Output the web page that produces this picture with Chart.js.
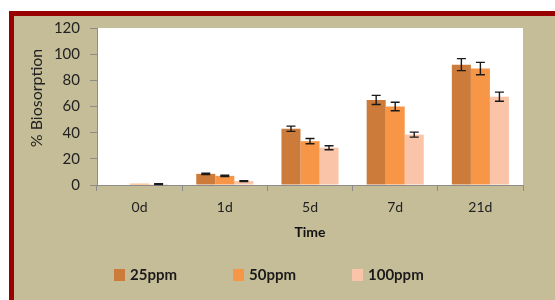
<!DOCTYPE html>
<html><head><meta charset="utf-8">
<script src="https://cdn.jsdelivr.net/npm/chart.js@4"></script>
<style>
html,body{margin:0;padding:0;background:#fff;overflow:hidden;width:555px;height:300px}
#frame{position:absolute;left:9px;top:11px;width:560px;height:300px;border-left:5px solid #990000;border-top:5px solid #990000;background:#C4BD97}
#wrap{position:absolute;left:14px;top:16px;width:541px;height:284px}
</style></head><body>
<div id="frame"></div>
<div id="wrap"><canvas id="c" width="541" height="284"></canvas></div>
<script>
const categories = ['0d', '1d', '5d', '7d', '21d'];
const seriesNames = ['25ppm', '50ppm', '100ppm'];
const values25 = [0, 8.5, 43, 65, 92];
const values50 = [1, 7, 33.5, 60, 89];
const values100 = [0.7, 3, 28.5, 38.5, 67.5];
const err25 = [0, 0.5, 2, 3.5, 4.6];
const err50 = [0, 0.5, 2, 3.2, 4.7];
const err100 = [0.3, 0.3, 1.5, 1.9, 3.5];
const yTicks = [0, 20, 40, 60, 80, 100, 120];
const xTitle = 'Time';
const yTitle = '% Biosorption';
const colors = ['#CC7B3A', '#F79646', '#FAC4A8'];

const FONT = 'Lato';

const bgPlugin = {
  id: 'bg',
  beforeDraw(chart) {
    const {ctx, chartArea: a} = chart;
    ctx.save();
    ctx.fillStyle = '#ffffff';
    ctx.fillRect(a.left, a.top, a.right - a.left, a.bottom - a.top);
    ctx.restore();
  }
};

const errPlugin = {
  id: 'errbars',
  afterDatasetsDraw(chart) {
    const {ctx} = chart;
    const ys = chart.scales.y;
    ctx.save();
    ctx.strokeStyle = '#1a1a1a';
    ctx.lineWidth = 1.4;
    chart.data.datasets.forEach((ds, i) => {
      const meta = chart.getDatasetMeta(i);
      meta.data.forEach((el, j) => {
        const e = ds.errors[j];
        if (!e) return;
        const v = ds.data[j];
        const yT = ys.getPixelForValue(v + e);
        const yB = ys.getPixelForValue(Math.max(0, v - e));
        const x = el.x;
        ctx.beginPath();
        ctx.moveTo(x, yT); ctx.lineTo(x, yB);
        ctx.moveTo(x - 4.5, yT); ctx.lineTo(x + 4.5, yT);
        ctx.moveTo(x - 4.5, yB); ctx.lineTo(x + 4.5, yB);
        ctx.stroke();
      });
    });
    ctx.restore();
  }
};

const extrasPlugin = {
  id: 'extras',
  afterDraw(chart) {
    const {ctx} = chart;
    ctx.save();
    // y axis title
    ctx.fillStyle = '#222';
    ctx.font = '16px ' + FONT;
    ctx.textAlign = 'center';
    ctx.textBaseline = 'middle';
    ctx.translate(23, 82);
    ctx.rotate(-Math.PI / 2);
    ctx.fillText(yTitle, 0, 0);
    ctx.restore();
    // legend
    ctx.save();
    ctx.font = 'bold 15px ' + FONT;
    ctx.textBaseline = 'middle';
    ctx.textAlign = 'left';
    let x = 100;
    const cy = 259;
    chart.data.datasets.forEach((ds) => {
      ctx.fillStyle = ds.backgroundColor;
      ctx.fillRect(x, cy - 6, 11, 12);
      ctx.fillStyle = '#1a1a1a';
      ctx.fillText(ds.label, x + 16, cy);
      x += 16 + ctx.measureText(ds.label).width + 56;
    });
    ctx.restore();
  }
};

const seriesValues = [values25, values50, values100];
const seriesErrors = [err25, err50, err100];

new Chart(document.getElementById('c'), {
  type: 'bar',
  data: {
    labels: categories,
    datasets: seriesNames.map((n, i) => ({
      label: n,
      data: seriesValues[i],
      errors: seriesErrors[i],
      backgroundColor: colors[i],
      borderWidth: 0,
      barPercentage: 1.0,
      categoryPercentage: 0.67
    }))
  },
  options: {
    responsive: false,
    animation: false,
    devicePixelRatio: 1,
    layout: {padding: {left: 0, right: 32, top: 12, bottom: 55}},
    plugins: {legend: {display: false}, tooltip: {enabled: false}},
    scales: {
      x: {
        grid: {display: true, drawOnChartArea: false, color: '#8c8c8c', tickLength: 6, offset: true},
        border: {display: true, color: '#8c8c8c', width: 1},
        ticks: {color: '#222', font: {family: FONT, size: 14}, padding: 8},
        title: {display: true, text: xTitle, color: '#111', font: {family: FONT, size: 14, weight: 'bold'}, padding: {top: 0, bottom: 4}},
        afterFit(s) { s.height = 60; s.paddingLeft = 0; s.paddingRight = 0; }
      },
      y: {
        min: 0, max: 120,
        afterBuildTicks(s) { s.ticks = yTicks.map(v => ({value: v})); },
        grid: {display: true, drawOnChartArea: false, color: '#8c8c8c', tickLength: 7},
        border: {display: true, color: '#8c8c8c', width: 1},
        ticks: {color: '#222', font: {family: FONT, size: 15}, padding: 10},
        afterFit(s) { s.width = 83; s.paddingTop = 0; s.paddingBottom = 0; }
      }
    }
  },
  plugins: [bgPlugin, errPlugin, extrasPlugin]
});
</script>
</body></html>
